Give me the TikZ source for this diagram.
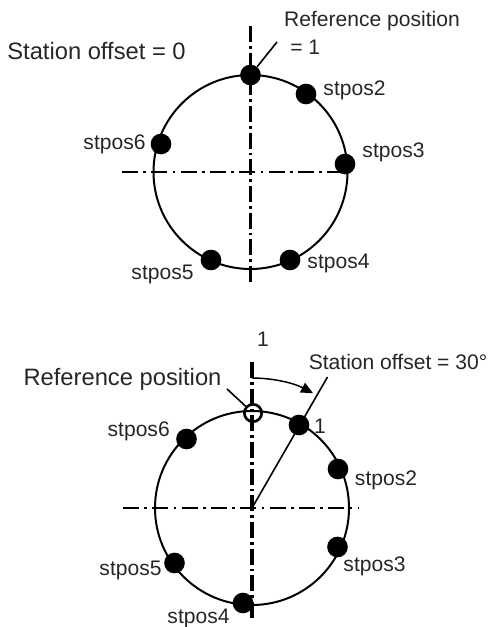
\documentclass[tikz,border=0pt]{standalone}
\usepackage{fontspec}
\setmainfont{Liberation Sans}
\usetikzlibrary{arrows.meta}
\begin{document}
\begin{tikzpicture}[x=0.75pt,y=-0.75pt,
  big/.style={font=\fontsize{17.8}{20}\selectfont, inner sep=0pt, text=black!85},
  small/.style={font=\fontsize{15.8}{18}\selectfont, inner sep=0pt, text=black!85},
  stdot/.style={circle, fill=black, minimum size=15.5pt, inner sep=0pt},
  ring/.style={circle, draw=black, line width=2pt, minimum size=13pt, inner sep=0pt},
  wheel/.style={line width=1.5pt},
  vaxis/.style={line width=2.3pt, dash pattern=on 12pt off 3pt on 2pt off 3pt},
  haxis/.style={line width=1.5pt, dash pattern=on 12pt off 4pt on 2pt off 4pt},
  leader/.style={line width=1.2pt}]
\useasboundingbox (0,0) rectangle (489,627);

% ---------- top diagram ----------
\coordinate (c1) at (250.5,172);
\coordinate (v1a) at (250.5,26);
\coordinate (v1b) at (250.5,283);
\coordinate (h1a) at (122,172);
\coordinate (h1b) at (356,172);
\draw[wheel] (c1) circle[radius=97];
\draw[vaxis] (v1a) -- (v1b);
\draw[haxis] (h1a) -- (h1b);

\node[stdot] (t1) at (250.5,75) {};
\node[stdot] (t2) at (306,94) {};
\node[stdot] (t3) at (345,164) {};
\node[stdot] (t4) at (290,260) {};
\node[stdot] (t5) at (211,260) {};
\node[stdot] (t6) at (161,144) {};

\node[big] (tso) at (96.5,51) {Station offset = 0};
\node[small] (trp) at (372,21) {Reference position};
\node[small, anchor=west] (teq) at (290,47) {= 1};
\coordinate (tl1) at (277,42);
\draw[leader] (tl1) -- (t1);

\node[small] (lt2) at (354.5,90) {stpos2};
\node[small] (lt3) at (393.5,152) {stpos3};
\node[small] (lt4) at (338.5,263) {stpos4};
\node[small] (lt5) at (162.5,274) {stpos5};
\node[small] (lt6) at (114.5,144) {stpos6};

% ---------- bottom diagram ----------
\coordinate (c2) at (252,508);
\coordinate (v2a) at (252,362);
\coordinate (v2b) at (252,618);
\coordinate (h2a) at (123,508);
\coordinate (h2b) at (358,508);
\draw[wheel] (c2) circle[radius=97];
\draw[vaxis] (v2a) -- (v2b);
\draw[haxis] (h2a) -- (h2b);

\coordinate (rend) at (327.5,377);
\draw[leader] (c2) -- (rend);

\node[ring] (ref) at (253,413) {};
\node[stdot] (b1) at (299,425) {};
\node[stdot] (b2) at (338,469) {};
\node[stdot] (b3) at (337.5,547) {};
\node[stdot] (b4) at (243,603) {};
\node[stdot] (b5) at (174.5,563) {};
\node[stdot] (b6) at (186.5,439) {};

\coordinate (arcs) at (252,378);
\draw[line width=1.1pt, -{Triangle[length=9pt,width=8pt]}] (arcs) arc[start angle=-90, end angle=-62, radius=130];

\node[small] (one) at (263,339) {1};
\node[small] (bso) at (398,362) {Station offset = 30°};
\node[big] (brp) at (122.5,379) {Reference position};
\coordinate (bl1) at (227,389);
\draw[leader] (bl1) -- (ref);
\node[small] (one2) at (320,426) {1};

\node[small] (lb2) at (386,480) {stpos2};
\node[small] (lb3) at (374.5,566) {stpos3};
\node[small] (lb4) at (198.5,618) {stpos4};
\node[small] (lb5) at (130.5,570) {stpos5};
\node[small] (lb6) at (138.7,431) {stpos6};
\end{tikzpicture}
\end{document}
